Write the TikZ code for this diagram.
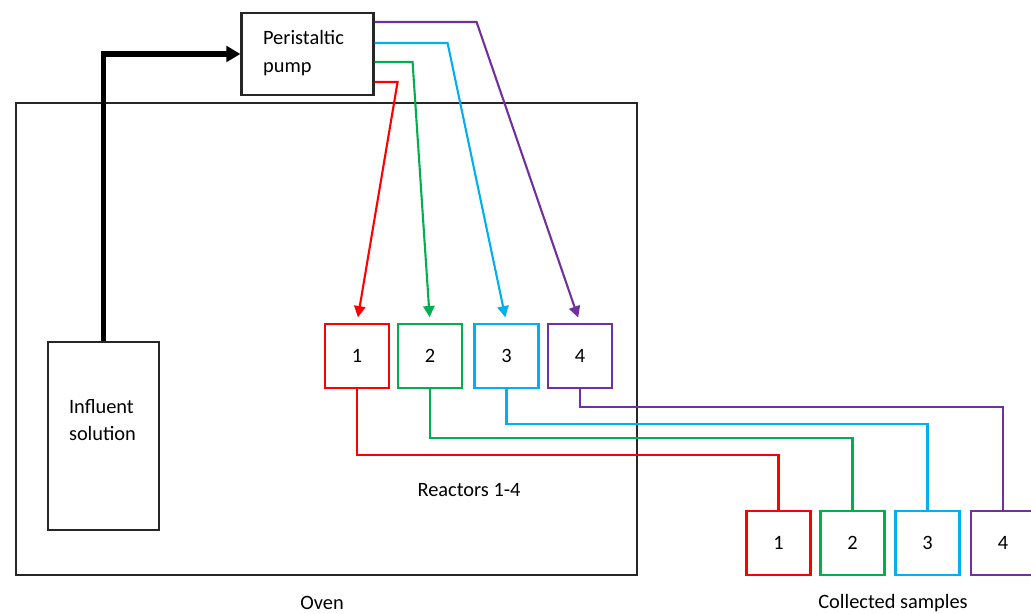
\documentclass[tikz,border=0pt]{standalone}
\usepackage{fontspec}
\setmainfont{Carlito}
\usepackage{tikz}
\usetikzlibrary{arrows.meta,calc,positioning}
\definecolor{tubered}{HTML}{FF0000}
\definecolor{tubegreen}{HTML}{00B050}
\definecolor{tubeblue}{HTML}{00B0F0}
\definecolor{tubepurple}{HTML}{7030A0}
\definecolor{framegray}{HTML}{262626}

\tikzset{
  frame/.style={draw=framegray, line width=1.5pt},
  vessel/.style={draw=#1, line width=1.6pt, fill=white, minimum size=1.6cm, inner sep=0pt},
  tube/.style={draw=#1, line width=1.5pt},
  feed/.style={tube=#1, -{Triangle[length=8pt,width=8pt]}, shorten >=4pt},
}

\begin{document}
\begin{tikzpicture}[x=0.025cm, y=0.025cm, font=\fontsize{14.5}{19.5}\selectfont]
\useasboundingbox (0,0) rectangle (1031,613);
\clip (0,0) rectangle (1031,613);

% oven
\draw[frame] (16,38) rectangle (637,510);
\node (ovenlabel) at (322,10) {Oven};

% pump and influent
\node[frame, fill=white, minimum width=3.3cm, minimum height=2.05cm, align=left] (pump) at (307.5,559) {};
\node[align=left] (pumptext) at ($(pump.center)+(-4,1)$) {Peristaltic\\pump};
\node[frame, minimum width=2.78cm, minimum height=4.7cm] (infl) at (103.5,177) {};
\node[align=left] (infltext) at ($(infl.center)+(-1,16)$) {Influent\\solution};
\draw[line width=3.6pt, -{Triangle[length=10pt,width=11pt]}] (infl.north) |- (pump.west);

% reactors
\node[vessel=tubered] (r1) at (357,257) {1};
\node[vessel=tubegreen] (r2) at (430,257) {2};
\node[vessel=tubeblue] (r3) at (506.5,257) {3};
\node[vessel=tubepurple] (r4) at (580,257) {4};
\node (reactlabel) at (469,123) {Reactors 1-4};

% collected samples
\node[vessel=tubered] (s1) at (778.5,70) {1};
\node[vessel=tubegreen] (s2) at (852.5,70) {2};
\node[vessel=tubeblue] (s3) at (927.5,70) {3};
\node[vessel=tubepurple] (s4) at (1003,70) {4};
\node (samplelabel) at (893,10) {Collected samples};

% pump to reactors
\draw[feed=tubered] ($(pump.east)+(0,-28)$) -- ++(23,0) -- (r1.north);
\draw[feed=tubegreen] ($(pump.east)+(0,-8)$) -- ++(38,0) -- (r2.north);
\draw[feed=tubeblue] ($(pump.east)+(0,11)$) -- ++(73,0) -- (r3.north);
\draw[feed=tubepurple] ($(pump.east)+(0,32)$) -- ++(102,0) -- (r4.north);

% reactors to samples
\draw[tube=tubered] (r1.south) -- ++(0,-66) -| (s1.north);
\draw[tube=tubegreen] (r2.south) -- ++(0,-49) -| (s2.north);
\draw[tube=tubeblue] (r3.south) -- ++(0,-35) -| (s3.north);
\draw[tube=tubepurple] (r4.south) -- ++(0,-18) -| (s4.north);
\end{tikzpicture}
\end{document}
